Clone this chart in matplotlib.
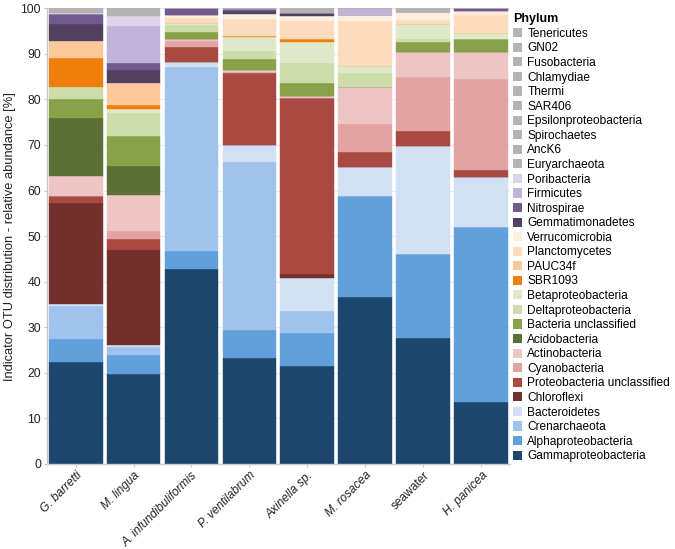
import matplotlib
matplotlib.use("Agg")
import matplotlib.pyplot as plt
from matplotlib.patches import Patch
import numpy as np

plt.rcParams['font.family'] = ['Liberation Sans', 'DejaVu Sans']

samples = ["G. barretti", "M. lingua", "A. infundibuliformis", "P. ventilabrum",
           "Axinella sp.", "M. rosacea", "seawater", "H. panicea"]
italic_flags = [True, True, True, True, True, True, False, True]

# values per phylum, order of samples as above (bottom -> top stacking)
Gammaproteobacteria = [22.4, 19.7, 42.7, 23.2, 21.5, 36.6, 27.7, 13.5]
Alphaproteobacteria = [5.0, 4.1, 4.0, 6.2, 7.3, 22.2, 18.3, 38.5]
Crenarchaeota = [7.3, 1.9, 40.3, 36.9, 4.8, 0, 0, 0]
Bacteroidetes = [0.3, 0.3, 1.3, 3.7, 7.3, 6.3, 23.8, 10.9]
Chloroflexi = [22.3, 21.0, 0, 0, 0.7, 0, 0, 0]
Proteobacteria_unclassified = [1.5, 2.3, 3.1, 15.7, 38.8, 3.4, 3.3, 1.6]
Cyanobacteria = [0, 1.8, 1.4, 0.3, 0, 6.1, 11.8, 20.0]
Actinobacteria = [4.3, 7.9, 0.4, 0.5, 0.4, 8.1, 5.4, 6.0]
Acidobacteria = [12.9, 6.3, 0, 0, 0, 0, 0, 0]
Bacteria_unclassified = [4.1, 6.6, 1.6, 2.3, 2.8, 0, 2.2, 2.7]
Deltaproteobacteria = [2.7, 5.2, 1.6, 1.8, 4.3, 3.0, 0.7, 0]
Betaproteobacteria = [0, 0.7, 0.4, 3.0, 4.7, 1.7, 3.4, 1.3]
SBR1093 = [6.2, 0.9, 0, 0.4, 0.6, 0, 0, 0]
PAUC34f = [3.8, 4.9, 0, 0, 0, 0, 0, 0]
Planctomycetes = [0, 0, 1.0, 3.6, 3.9, 9.7, 0.8, 4.0]
Verrucomicrobia = [0, 0, 0.7, 1.2, 1.3, 1.4, 1.7, 1.0]
Gemmatimonadetes = [3.8, 2.8, 0, 0.6, 0.5, 0, 0, 0]
Nitrospirae = [2.1, 1.5, 1.5, 0.4, 0, 0, 0, 0.5]
Firmicutes = [0, 8.3, 0, 0, 0, 1.5, 0, 0]
Poribacteria = [0.3, 2.2, 0, 0, 0, 0, 0, 0]
Euryarchaeota = [0.6, 0.8, 0, 0.4, 0.5, 0, 0.5, 0]
AncK6 = [0.3, 0, 0, 0, 0, 0, 0, 0]
Spirochaetes = [0, 0.5, 0, 0, 0, 0, 0, 0]
Epsilonproteobacteria = [0, 0, 0, 0, 0.3, 0, 0, 0]
SAR406 = [0.3, 0, 0, 0, 0, 0, 0.5, 0]
Thermi = [0, 0, 0, 0, 0.3, 0, 0, 0]
Chlamydiae = [0, 0.3, 0, 0, 0, 0, 0, 0]
Fusobacteria = [0, 0, 0, 0, 0, 0, 0, 0]
GN02 = [0, 0, 0, 0, 0, 0, 0, 0]
Tenericutes = [0, 0.3, 0, 0, 0, 0, 0, 0]

phyla = ["Gammaproteobacteria", "Alphaproteobacteria", "Crenarchaeota", "Bacteroidetes",
         "Chloroflexi", "Proteobacteria unclassified", "Cyanobacteria", "Actinobacteria",
         "Acidobacteria", "Bacteria unclassified", "Deltaproteobacteria", "Betaproteobacteria",
         "SBR1093", "PAUC34f", "Planctomycetes", "Verrucomicrobia", "Gemmatimonadetes",
         "Nitrospirae", "Firmicutes", "Poribacteria", "Euryarchaeota", "AncK6", "Spirochaetes",
         "Epsilonproteobacteria", "SAR406", "Thermi", "Chlamydiae", "Fusobacteria", "GN02",
         "Tenericutes"]
series = [Gammaproteobacteria, Alphaproteobacteria, Crenarchaeota, Bacteroidetes,
          Chloroflexi, Proteobacteria_unclassified, Cyanobacteria, Actinobacteria,
          Acidobacteria, Bacteria_unclassified, Deltaproteobacteria, Betaproteobacteria,
          SBR1093, PAUC34f, Planctomycetes, Verrucomicrobia, Gemmatimonadetes,
          Nitrospirae, Firmicutes, Poribacteria, Euryarchaeota, AncK6, Spirochaetes,
          Epsilonproteobacteria, SAR406, Thermi, Chlamydiae, Fusobacteria, GN02,
          Tenericutes]
grey = "#b3b3b3"
colors = ["#1d466e", "#62a0dc", "#9fc3ec", "#d1e1f3",
          "#732f2b", "#a84a42", "#e3a3a3", "#eec5c5",
          "#5b6e33", "#89a24a", "#cddca9", "#dfe8c9",
          "#ef7e0b", "#fdc99a", "#fddcbe", "#fdeee0", "#51405f",
          "#735a8e", "#c2b3d8", "#dcd3e8"] + [grey] * 10

fig = plt.figure(figsize=(6.75, 5.49), dpi=100)
ax = fig.add_axes([0.069, 0.155, 0.687, 0.830])

x = np.arange(len(samples))
bottom = np.zeros(len(samples))
for name, vals, c in zip(phyla, series, colors):
    v = np.array(vals, dtype=float)
    ax.bar(x, v, bottom=bottom, width=0.93, color=c, edgecolor=c, linewidth=0.3, zorder=2)
    bottom += v

ax.set_xlim(-0.5, len(samples) - 0.5)
ax.set_ylim(0, 100)
ax.set_yticks(np.arange(0, 101, 10))
ax.yaxis.grid(True, color="#ebebeb", linewidth=0.8, zorder=0)
ax.set_axisbelow(True)
for s in ["top", "right"]:
    ax.spines[s].set_visible(False)
for s in ["left", "bottom"]:
    ax.spines[s].set_color("#c8c8c8")
    ax.spines[s].set_linewidth(1.0)
ax.tick_params(axis="both", colors="#c8c8c8", labelcolor="#222222", length=2, pad=2)
ax.tick_params(axis="y", labelsize=8.8)
ax.tick_params(axis="x", labelsize=8.6)
ax.set_xticks(x)
ax.set_xticklabels(samples, rotation=45, ha="right", rotation_mode="anchor")
for lab, it in zip(ax.get_xticklabels(), italic_flags):
    lab.set_fontstyle("italic" if it else "normal")
ax.set_ylabel("Indicator OTU distribution - relative abundance [%]", fontsize=9.3,
              color="#222222", labelpad=3)

handles = [Patch(facecolor=c, edgecolor="none", label=n) for n, c in zip(phyla, colors)][::-1]
leg = fig.legend(handles=handles, loc="upper left", bbox_to_anchor=(0.758, 0.978),
                 frameon=False, fontsize=8.6, title="Phylum",
                 title_fontproperties={"weight": "bold", "size": 9},
                 handlelength=0.8, handleheight=0.8, handletextpad=0.4,
                 labelspacing=0.215, borderpad=0.1, borderaxespad=0)
leg._legend_box.align = "left"

fig.savefig("out.png", dpi=100)
